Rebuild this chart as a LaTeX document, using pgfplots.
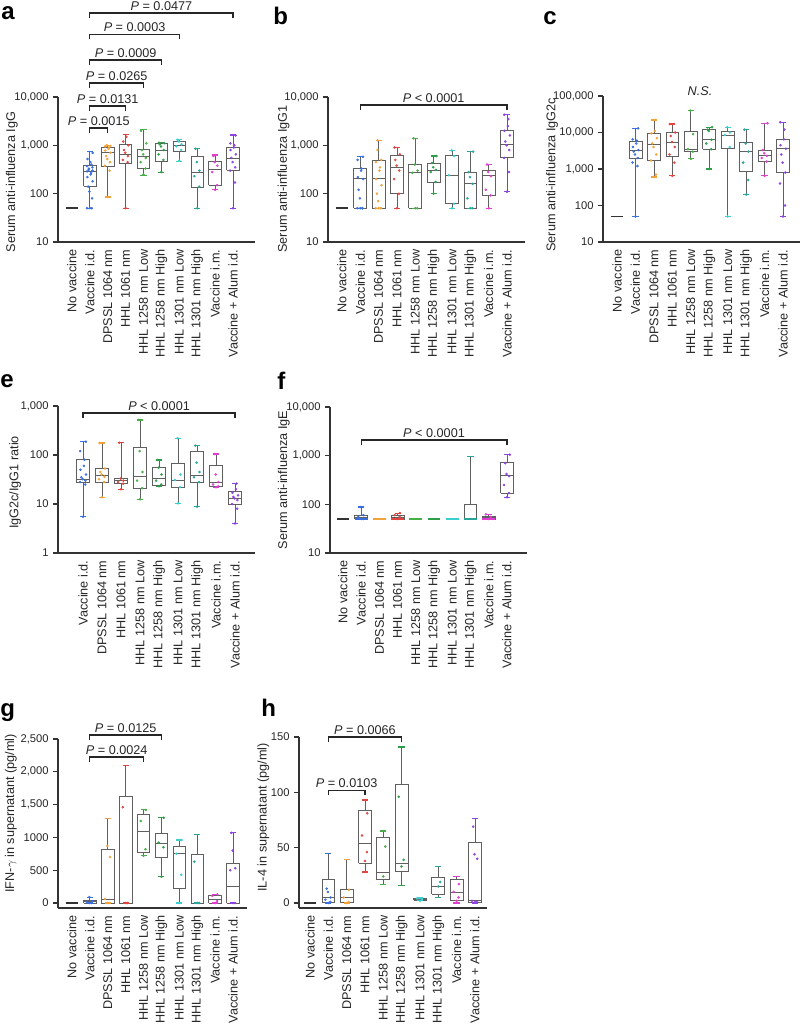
\documentclass[border=0pt]{standalone}
\usepackage{pgfplots}
\pgfplotsset{compat=1.18}
\usepackage{fontspec}
\setmainfont{Liberation Sans}
\definecolor{axc}{HTML}{333333}
\definecolor{bxc}{HTML}{606060}
\definecolor{cNo}{HTML}{333333}
\definecolor{cVid}{HTML}{3A6FE0}
\definecolor{cDP}{HTML}{F2A23A}
\definecolor{cH61}{HTML}{E2453F}
\definecolor{cLL}{HTML}{46B046}
\definecolor{cLH}{HTML}{2E9E4A}
\definecolor{cSL}{HTML}{3CCFCF}
\definecolor{cSH}{HTML}{2AA59A}
\definecolor{cVim}{HTML}{E03FD0}
\definecolor{cAl}{HTML}{8E44E0}
\newcommand{\fs}{\fontsize{9.5}{11}\selectfont}
\newcommand{\fy}{\fontsize{8.4}{10}\selectfont}
\pgfplotsset{
 bxl/.style={draw=bxc, line width=0.6pt, mark=none, forget plot},
 cpl/.style={line width=0.9pt, mark=none, forget plot},
 flt/.style={line width=1.2pt, mark=none, forget plot},
 dts/.style={only marks, mark=*, mark size=0.75pt, mark options={draw=none, fill opacity=0.85}, forget plot},
 panel/.style={scale only axis, width=147.75pt, axis lines*=left,
   axis line style={-, draw=axc, line width=0.9pt},
   tick align=outside, ytick pos=left, major tick length=3.5pt,
   y tick style={axc, line width=0.8pt}, xtick style={draw=none},
   clip=false, enlargelimits=false, yminorticks=false,
   label style={font=\fs, text=black!85},
   yticklabel style={font=\fy, text=black!85},
   xticklabel style={font=\fs, text=black!85, rotate=90, anchor=east, inner sep=2pt}},
 catsA/.style={xtick={0,...,9}, xticklabels={No vaccine,Vaccine i.d.,DPSSL 1064 nm,HHL 1061 nm,HHL 1258 nm Low,HHL 1258 nm High,HHL 1301 nm Low,HHL 1301 nm High,Vaccine i.m.,Vaccine + Alum i.d.}},
 catsE/.style={xtick={1,...,9}, xticklabels={Vaccine i.d.,DPSSL 1064 nm,HHL 1061 nm,HHL 1258 nm Low,HHL 1258 nm High,HHL 1301 nm Low,HHL 1301 nm High,Vaccine i.m.,Vaccine + Alum i.d.}},
}
% box: position, colour, lower whisker, lower quartile, median, upper quartile, upper whisker
\newcommand{\bxp}[7]{%
 \pgfmathsetmacro\xa{#1-0.35}\pgfmathsetmacro\xb{#1+0.35}%
 \pgfmathsetmacro\xc{#1-0.17}\pgfmathsetmacro\xd{#1+0.17}%
 \addplot[bxl] coordinates {(#1,#3) (#1,#4)};
 \addplot[bxl] coordinates {(#1,#6) (#1,#7)};
 \addplot[bxl] coordinates {(\xa,#4) (\xb,#4) (\xb,#6) (\xa,#6) (\xa,#4)};
 \addplot[bxl] coordinates {(\xa,#5) (\xb,#5)};
 \addplot[cpl,#2] coordinates {(\xc,#3) (\xd,#3)};
 \addplot[cpl,#2] coordinates {(\xc,#7) (\xd,#7)};
}
\newcommand{\flt}[3]{%
 \pgfmathsetmacro\xa{#1-0.35}\pgfmathsetmacro\xb{#1+0.35}%
 \addplot[flt,#2] coordinates {(\xa,#3) (\xb,#3)};
}
% individual animals: position, colour, values (spread sideways within the box)
\newcommand{\dts}[3]{%
 \addplot[dts,#2] table[header=false, row sep=\\, y index=0, x expr={#1+0.16*sin(\coordindex*137)}] {#3};
}
\newcommand{\pbrk}[4]{%
 \draw[draw=black!85, line width=0.9pt] ([yshift=-4pt]axis cs:#1,#3) -- (axis cs:#1,#3) -- node[above=0.5pt, inner sep=1pt, font=\fs, text=black!85]{#4} (axis cs:#2,#3) -- ([yshift=-4pt]axis cs:#2,#3);
}
\newcommand{\pl}[1]{\textit{P} #1}
\begin{document}
\begin{tikzpicture}
\useasboundingbox (0,0) rectangle (600pt,771pt);
\node[anchor=base west, font=\fontsize{18}{20}\selectfont\bfseries, inner sep=0pt] at (0.75pt,756pt) {a};
\node[anchor=base west, font=\fontsize{18}{20}\selectfont\bfseries, inner sep=0pt] at (204.75pt,752.25pt) {b};
\node[anchor=base west, font=\fontsize{18}{20}\selectfont\bfseries, inner sep=0pt] at (407.25pt,752.25pt) {c};
\node[anchor=base west, font=\fontsize{18}{20}\selectfont\bfseries, inner sep=0pt] at (0pt,480pt) {e};
\node[anchor=base west, font=\fontsize{18}{20}\selectfont\bfseries, inner sep=0pt] at (207.75pt,478.5pt) {f};
\node[anchor=base west, font=\fontsize{18}{20}\selectfont\bfseries, inner sep=0pt] at (0pt,233.25pt) {g};
\node[anchor=base west, font=\fontsize{18}{20}\selectfont\bfseries, inner sep=0pt] at (195.75pt,233.25pt) {h};

% ---------- a ----------
\begin{axis}[panel, at={(43.5pt,589.5pt)}, anchor=south west, height=108.75pt,
 ymode=log, ymin=10, ymax=10000, xmin=-0.78, xmax=10.23,
 ytick={10,100,1000,10000}, yticklabels={10,100,{1,000},{10,000}}, catsA,
 ylabel={Serum anti-influenza IgG}, ylabel style={at={(axis description cs:-0.234,0.414)}, anchor=center}]
\flt{0}{cNo}{50}
\bxp{1}{cVid}{50}{144}{288}{383}{740}
\bxp{2}{cDP}{85}{360}{700}{920}{1000}
\bxp{3}{cH61}{50}{428}{653}{1050}{1680}
\bxp{4}{cLL}{238}{327}{600}{828}{2130}
\bxp{5}{cLH}{270}{476}{790}{1100}{1130}
\bxp{6}{cSL}{463}{740}{1000}{1230}{1330}
\bxp{7}{cSH}{50}{137}{270}{585}{870}
\bxp{8}{cVim}{120}{148}{325}{463}{632}
\bxp{9}{cAl}{50}{303}{540}{900}{1630}
\dts{1}{cVid}{50\\50\\50\\80\\110\\140\\180\\220\\250\\270\\290\\300\\310\\330\\350\\370\\400\\450\\520\\700\\}
\dts{2}{cDP}{85\\300\\380\\450\\520\\600\\700\\780\\850\\900\\950\\970\\1000\\1000\\}
\dts{3}{cH61}{50\\450\\500\\600\\700\\800\\1000\\1200\\1500\\}
\dts{4}{cLL}{250\\330\\450\\550\\650\\800\\1100\\2000\\}
\dts{5}{cLH}{280\\500\\650\\800\\950\\1050\\1100\\1130\\}
\dts{6}{cSL}{480\\800\\950\\1050\\1200\\1300\\}
\dts{7}{cSH}{50\\140\\230\\300\\450\\850\\}
\dts{8}{cVim}{120\\150\\280\\380\\450\\600\\}
\dts{9}{cAl}{50\\170\\300\\350\\450\\550\\650\\800\\900\\1000\\1100\\1600\\}
\pbrk{1}{2}{2285}{\pl{= 0.0015}}
\pbrk{1}{3}{6520}{\pl{= 0.0131}}
\pbrk{1}{4}{19500}{\pl{= 0.0265}}
\pbrk{1}{5}{58300}{\pl{= 0.0009}}
\pbrk{1}{6}{200000}{\pl{= 0.0003}}
\pbrk{1}{9}{547000}{\pl{= 0.0477}}
\end{axis}

% ---------- b ----------
\begin{axis}[panel, at={(246pt,589.5pt)}, anchor=south west, height=108.75pt,
 ymode=log, ymin=10, ymax=10000, xmin=-0.76, xmax=9.98,
 ytick={10,100,1000,10000}, yticklabels={10,100,{1,000},{10,000}}, catsA,
 ylabel={Serum anti-influenza IgG1}, ylabel style={at={(axis description cs:-0.226,0.434)}, anchor=center}]
\flt{0}{cNo}{50}
\bxp{1}{cVid}{50}{50}{210}{330}{580}
\bxp{2}{cDP}{50}{50}{210}{480}{1270}
\bxp{3}{cH61}{50}{100}{350}{620}{900}
\bxp{4}{cLL}{50}{50}{270}{400}{1400}
\bxp{5}{cLH}{100}{175}{310}{430}{600}
\bxp{6}{cSL}{50}{62}{240}{620}{790}
\bxp{7}{cSH}{50}{50}{160}{280}{740}
\bxp{8}{cVim}{50}{92}{235}{300}{400}
\bxp{9}{cAl}{110}{550}{1030}{2000}{4300}
\dts{1}{cVid}{50\\50\\50\\50\\80\\120\\200\\220\\300\\330\\500\\580\\}
\dts{2}{cDP}{50\\50\\50\\50\\70\\100\\150\\200\\300\\350\\450\\500\\800\\1270\\}
\dts{3}{cH61}{50\\100\\200\\300\\380\\500\\650\\900\\}
\dts{4}{cLL}{50\\50\\270\\300\\400\\1400\\}
\dts{5}{cLH}{100\\175\\280\\310\\350\\430\\600\\}
\dts{6}{cSL}{50\\62\\240\\600\\790\\}
\dts{7}{cSH}{50\\50\\80\\160\\220\\280\\740\\}
\dts{8}{cVim}{50\\92\\120\\230\\280\\400\\}
\dts{9}{cAl}{110\\280\\550\\800\\1000\\1200\\1600\\2000\\2500\\3500\\4300\\}
\pbrk{1}{9}{6820}{\pl{< 0.0001}}
\end{axis}

% ---------- c ----------
\begin{axis}[panel, at={(452.25pt,589.5pt)}, anchor=south west, height=109.5pt,
 ymode=log, ymin=10, ymax=100000, xmin=-0.76, xmax=9.92,
 ytick={10,100,1000,10000,100000}, yticklabels={10,100,{1,000},{10,000},{100,000}}, catsA,
 ylabel={Serum anti-influenza IgG2c}, ylabel style={at={(axis description cs:-0.259,0.46)}, anchor=center}]
\flt{0}{cNo}{50}
\bxp{1}{cVid}{50}{2000}{3300}{5800}{13000}
\bxp{2}{cDP}{600}{1700}{4700}{9500}{22000}
\bxp{3}{cH61}{650}{2200}{5500}{10000}{17000}
\bxp{4}{cLL}{1900}{3000}{3500}{11000}{40000}
\bxp{5}{cLH}{1000}{3500}{6300}{12000}{14000}
\bxp{6}{cSL}{50}{3600}{8500}{10500}{14000}
\bxp{7}{cSH}{200}{850}{3000}{5500}{12000}
\bxp{8}{cVim}{650}{1600}{2300}{3300}{18000}
\bxp{9}{cAl}{50}{800}{3600}{6500}{19000}
\dts{1}{cVid}{50\\1200\\1500\\2000\\2500\\3000\\3300\\4000\\5000\\6000\\6500\\13000\\}
\dts{2}{cDP}{600\\700\\1700\\2500\\4000\\5000\\7000\\9500\\11000\\22000\\}
\dts{3}{cH61}{650\\1500\\2500\\4000\\5500\\8000\\10000\\17000\\}
\dts{4}{cLL}{1900\\3000\\3500\\9000\\40000\\}
\dts{5}{cLH}{1000\\3500\\5000\\6300\\11000\\12000\\14000\\}
\dts{6}{cSL}{50\\4000\\8500\\10000\\14000\\}
\dts{7}{cSH}{200\\500\\1500\\3000\\5000\\12000\\}
\dts{8}{cVim}{650\\1600\\2000\\2300\\2700\\3300\\18000\\}
\dts{9}{cAl}{50\\100\\400\\800\\1500\\2500\\3600\\4500\\6500\\12000\\19000\\}
\node[font=\fs\itshape, text=black!85] at (axis cs:4.5,137000) {N.S.};
\end{axis}

% ---------- e ----------
\begin{axis}[panel, at={(43.5pt,356.25pt)}, anchor=south west, height=110.25pt,
 ymode=log, ymin=1, ymax=1000, xmin=-0.32, xmax=10.05,
 ytick={1,10,100,1000}, yticklabels={1,10,100,{1,000}}, catsE,
 ylabel={IgG2c/IgG1 ratio}, ylabel style={at={(axis description cs:-0.218,0.48)}, anchor=center}]
\bxp{1}{cVid}{5.5}{27}{32}{82}{187}
\bxp{2}{cDP}{13.7}{28}{38}{53}{175}
\bxp{3}{cH61}{20}{26}{30}{33.5}{178}
\bxp{4}{cLL}{12.5}{21}{37}{143}{520}
\bxp{5}{cLH}{23}{24.5}{33.5}{55}{79}
\bxp{6}{cSL}{10.3}{22}{31}{68}{220}
\bxp{7}{cSH}{8.8}{27}{39}{117}{155}
\bxp{8}{cVim}{22}{23}{28}{60}{105}
\bxp{9}{cAl}{4}{10}{13}{18}{26}
\dts{1}{cVid}{5.5\\25\\28\\30\\32\\35\\40\\50\\60\\80\\120\\187\\}
\dts{2}{cDP}{13.7\\28\\32\\36\\40\\45\\53\\175\\}
\dts{3}{cH61}{20\\26\\28\\30\\33\\178\\}
\dts{4}{cLL}{12.5\\21\\30\\45\\120\\520\\}
\dts{5}{cLH}{23\\25\\30\\40\\55\\79\\}
\dts{6}{cSL}{10.3\\22\\31\\40\\220\\}
\dts{7}{cSH}{8.8\\28\\35\\45\\70\\155\\}
\dts{8}{cVim}{22\\23\\25\\28\\40\\105\\}
\dts{9}{cAl}{4\\8\\10\\12\\13\\14\\15\\17\\20\\26\\}
\pbrk{1}{9}{720}{\pl{< 0.0001}}
\end{axis}

% ---------- f ----------
\begin{axis}[panel, at={(247.5pt,356.25pt)}, anchor=south west, height=109.5pt,
 ymode=log, ymin=10, ymax=10000, xmin=-0.71, xmax=10.1,
 ytick={10,100,1000,10000}, yticklabels={10,100,{1,000},{10,000}}, catsA,
 ylabel={Serum anti-influenza IgE}, ylabel style={at={(axis description cs:-0.234,0.5)}, anchor=center}]
\flt{0}{cNo}{50}
\bxp{1}{cVid}{50}{50}{54}{60}{88}
\flt{2}{cDP}{50}
\bxp{3}{cH61}{50}{50}{53}{58}{66}
\flt{4}{cLL}{50}
\flt{5}{cLH}{50}
\flt{6}{cSL}{50}
\bxp{7}{cSH}{50}{50}{50}{100}{950}
\bxp{8}{cVim}{50}{50}{53}{57}{62}
\bxp{9}{cAl}{140}{170}{390}{730}{1050}
\flt{1}{cVid}{50}
\flt{3}{cH61}{50}
\flt{7}{cSH}{50}
\flt{8}{cVim}{50}
\dts{1}{cVid}{50\\50\\55\\60\\88\\}
\dts{3}{cH61}{50\\55\\60\\66\\}
\dts{8}{cVim}{50\\55\\62\\}
\dts{9}{cAl}{140\\170\\250\\380\\420\\700\\1050\\}
\pbrk{1}{9}{2100}{\pl{< 0.0001}}
\end{axis}

% ---------- g ----------
\begin{axis}[panel, at={(43.5pt,90pt)}, anchor=south west, width=141.75pt, height=126.75pt,
 ymin=-76, ymax=2500, xmin=-0.78, xmax=9.78,
 ytick={0,500,1000,1500,2000,2500}, yticklabels={0,500,1000,{1,500},{2,000},{2,500}}, catsA,
 ylabel={IFN-$\gamma$ in supernatant (pg/ml)}, ylabel style={at={(axis description cs:-0.249,0.56)}, anchor=center}]
\flt{0}{cNo}{0}
\bxp{1}{cVid}{0}{0}{20}{40}{90}
\bxp{2}{cDP}{0}{0}{60}{810}{1290}
\bxp{3}{cH61}{0}{0}{0}{1620}{2090}
\bxp{4}{cLL}{720}{770}{1085}{1345}{1420}
\bxp{5}{cLH}{400}{690}{915}{1060}{1300}
\bxp{6}{cSL}{0}{220}{750}{860}{960}
\bxp{7}{cSH}{0}{0}{0}{740}{1040}
\bxp{8}{cVim}{0}{0}{60}{110}{130}
\bxp{9}{cAl}{0}{0}{250}{610}{1070}
\dts{1}{cVid}{0\\0\\10\\30\\90\\}
\dts{2}{cDP}{0\\0\\60\\700\\870\\}
\dts{3}{cH61}{0\\0\\1460\\}
\dts{4}{cLL}{720\\820\\1250\\1420\\}
\dts{5}{cLH}{400\\850\\920\\1300\\}
\dts{6}{cSL}{0\\430\\750\\960\\}
\dts{7}{cSH}{0\\0\\630\\}
\dts{8}{cVim}{0\\30\\110\\130\\}
\dts{9}{cAl}{0\\0\\500\\530\\800\\1070\\}
\pbrk{1}{4}{2226}{\pl{= 0.0024}}
\pbrk{1}{5}{2561}{\pl{= 0.0125}}
\end{axis}

% ---------- h ----------
\begin{axis}[panel, at={(224.25pt,90pt)}, anchor=south west, width=141pt, height=128.25pt,
 ymin=-4.5, ymax=150, xmin=-0.6, xmax=9.66,
 ytick={0,50,100,150}, yticklabels={0,50,100,150}, catsA,
 ylabel={IL-4 in supernatant (pg/ml)}, ylabel style={at={(axis description cs:-0.19,0.53)}, anchor=center}]
\flt{0}{cNo}{0}
\bxp{1}{cVid}{0}{1}{5}{21}{45}
\bxp{2}{cDP}{0}{1}{5}{12}{39}
\bxp{3}{cH61}{28}{36}{54}{84}{93}
\bxp{4}{cLL}{17}{21}{28}{59}{65}
\bxp{5}{cLH}{16}{29}{36}{107}{141}
\bxp{6}{cSL}{2}{2.5}{3.5}{4}{4.5}
\bxp{7}{cSH}{5}{8}{15}{23}{33}
\bxp{8}{cVim}{0}{2}{10}{21}{24}
\bxp{9}{cAl}{0}{1}{2}{55}{76}
\dts{1}{cVid}{0\\1\\3\\5\\10\\13\\}
\dts{2}{cDP}{0\\1\\5\\12\\}
\dts{3}{cH61}{38\\46\\61\\81\\}
\dts{4}{cLL}{24\\51\\}
\dts{5}{cLH}{33\\39\\96\\}
\dts{6}{cSL}{2\\3\\4\\}
\dts{7}{cSH}{15\\19\\}
\dts{8}{cVim}{2\\5\\10\\17\\}
\dts{9}{cAl}{1\\1\\2\\40\\44\\69\\}
\pbrk{1}{5}{150}{\pl{= 0.0066}}
\pbrk{1}{3}{102}{\pl{= 0.0103}}
\end{axis}
\end{tikzpicture}
\end{document}
